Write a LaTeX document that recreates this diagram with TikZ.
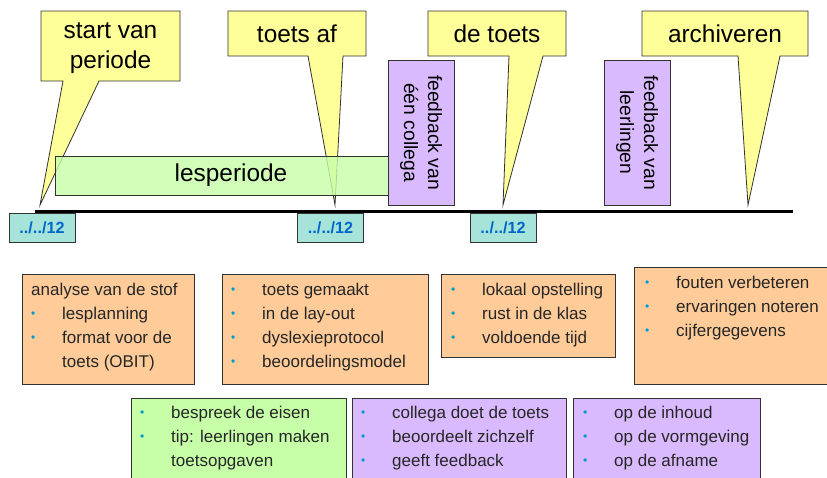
\documentclass[tikz,border=0pt]{standalone}
\usepackage{fontspec}
\setmainfont{Liberation Sans}
\usetikzlibrary{positioning}

\definecolor{calyellow}{RGB}{255,255,153}
\definecolor{lesgreen}{RGB}{198,255,168}
\definecolor{infoorange}{RGB}{255,204,153}
\definecolor{fbpurple}{RGB}{218,186,255}
\definecolor{dateteal}{RGB}{166,228,218}
\definecolor{dateblue}{RGB}{0,102,204}
\definecolor{dotblue}{RGB}{0,153,204}
\definecolor{rim}{RGB}{50,50,50}

\newcommand\bul{\makebox[31pt][l]{\textcolor{dotblue}{\raisebox{2.5pt}{\fontsize{12}{12}\selectfont\textbullet}}}}
\newcommand\nobul{\makebox[31pt][l]{}}

\begin{document}
\begin{tikzpicture}[x=1pt,y=-1pt,line join=miter,
  balloon/.style={draw=rim,fill=calyellow,line width=0.8pt},
  title/.style={font=\fontsize{24.4}{30}\selectfont,align=center},
  datebox/.style={draw=rim,fill=dateteal,minimum width=66pt,minimum height=29pt,inner sep=0pt,
    font=\fontsize{16.2}{18}\selectfont\bfseries,text=dateblue},
  fbbox/.style={draw=rim,fill=fbpurple,rotate=-90,minimum width=145pt,minimum height=66pt,
    inner sep=0pt,align=center,font=\fontsize{19.3}{24}\selectfont},
  infobox/.style={draw=rim,anchor=north west,inner sep=0pt},
  infotext/.style={anchor=north west,inner sep=0pt,align=left,text=black!85,
    font=\fontsize{17}{24}\selectfont}]
\useasboundingbox (0,0) rectangle (827,477);
\clip (0,0) rectangle (827,477);

% punten op de tijdlijn
\coordinate (tlstart) at (35,211);
\coordinate (tlend) at (793,211);
\coordinate (tip1) at (40,205);
\coordinate (tip2) at (335,205);
\coordinate (tip3) at (503,205);
\coordinate (tip4) at (748,205);

% ballonnen
\draw[balloon] (41,11) -- (180,11) -- (180,81) -- (99,81) -- (tip1) -- (63,81) -- (41,81) -- cycle;
\draw[balloon] (228,11) -- (366,11) -- (366,56) -- (343,56) -- (tip2) -- (308,56) -- (228,56) -- cycle;
\draw[balloon] (428,11) -- (566,11) -- (566,56) -- (543,56) -- (tip3) -- (509,56) -- (428,56) -- cycle;
\draw[balloon] (642,11) -- (808,11) -- (808,56) -- (780,56) -- (tip4) -- (738,56) -- (642,56) -- cycle;
\node[title] (start) at (110.5,48) {start van\\periode};
\node[title] (toetsaf) at (297,34) {toets af};
\node[title] (detoets) at (497,34) {de toets};
\node[title] (archiveren) at (725,34) {archiveren};

% lesperiode en feedback
\node[draw=rim,fill=lesgreen,fill opacity=0.8,text opacity=1,minimum width=352pt,minimum height=39pt,
  inner sep=0pt,font=\fontsize{24.4}{30}\selectfont] (lesperiode) at (231,175.5) {lesperiode};
\node[fbbox] (fbcollega) at (421,132.5) {feedback van\\één collega};
\node[fbbox] (fbleerling) at (637,132.5) {feedback van\\leerlingen};

% tijdlijn
\draw[line width=3pt] (tlstart) -- (tlend);
\node[datebox] (date1) at (42,227.5) {../../12};
\node[datebox] (date2) at (330.5,227.5) {../../12};
\node[datebox] (date3) at (503,227.5) {../../12};

% blokken
\node[infobox,fill=infoorange,minimum width=172pt,minimum height=110pt] (analyse) at (22,274) {};
\node[infotext] (analyse-txt) at (31,283) {analyse van de stof\\\bul lesplanning\\\bul format voor de\\\nobul toets (OBIT)};
\node[infobox,fill=infoorange,minimum width=206pt,minimum height=110pt] (maken) at (222,274) {};
\node[infotext] (maken-txt) at (231,283) {\bul toets gemaakt\\\bul in de lay-out\\\bul dyslexieprotocol\\\bul beoordelingsmodel};
\node[infobox,fill=infoorange,minimum width=174pt,minimum height=83pt] (afname) at (441,274) {};
\node[infotext] (afname-txt) at (451,283) {\bul lokaal opstelling\\\bul rust in de klas\\\bul voldoende tijd};
\node[infobox,fill=infoorange,minimum width=200pt,minimum height=117pt] (archief) at (634,267) {};
\node[infotext] (archief-txt) at (645,276) {\bul fouten verbeteren\\\bul ervaringen noteren\\\bul cijfergegevens};
\node[infobox,fill=lesgreen,minimum width=215pt,minimum height=90pt] (eisen) at (131,398) {};
\node[infotext] (eisen-txt) at (140,406) {\bul bespreek de eisen\\\bul tip: leerlingen maken\\\nobul toetsopgaven};
\node[infobox,fill=fbpurple,minimum width=214pt,minimum height=90pt] (collega) at (352,398) {};
\node[infotext] (collega-txt) at (361,406) {\bul collega doet de toets\\\bul beoordeelt zichzelf\\\bul geeft feedback};
\node[infobox,fill=fbpurple,minimum width=187pt,minimum height=90pt] (leerling) at (573,398) {};
\node[infotext] (leerling-txt) at (583,406) {\bul op de inhoud\\\bul op de vormgeving\\\bul op de afname};
\end{tikzpicture}
\end{document}
